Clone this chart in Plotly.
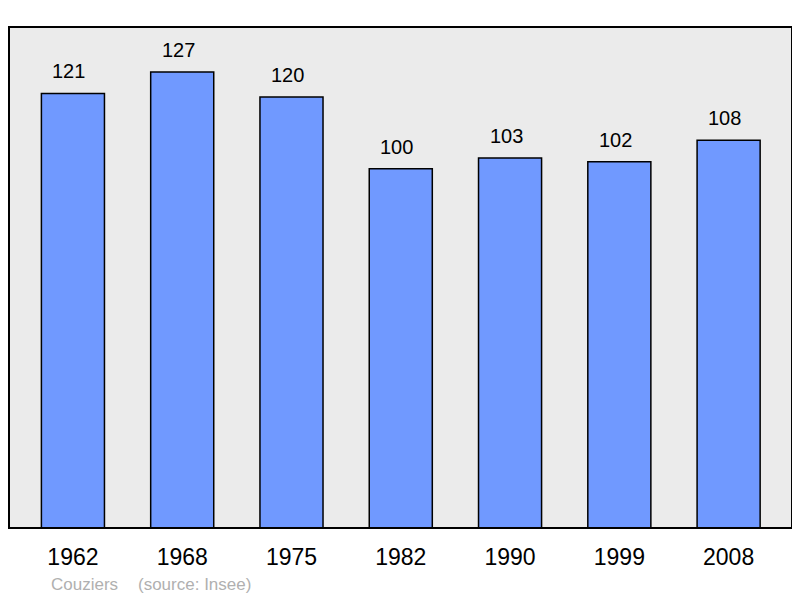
import plotly.graph_objects as go

years = ["1962", "1968", "1975", "1982", "1990", "1999", "2008"]
population = [121, 127, 120, 100, 103, 102, 108]
commune = "Couziers"
source = "(source: Insee)"

xs = list(range(len(years)))
FONT = "Liberation Sans, Arial, sans-serif"

fig = go.Figure()
fig.add_trace(go.Bar(
    x=xs, y=population, width=0.577,
    marker=dict(color="#7099ff", line=dict(color="#000000", width=1.5)),
    hoverinfo="skip",
))

for x, v in zip(xs, population):
    fig.add_annotation(x=x, y=v, text=str(v), showarrow=False,
                       yanchor="bottom", yshift=9, xshift=-4,
                       font=dict(family=FONT, size=20, color="#000"))

fig.add_annotation(xref="paper", yref="paper", x=0.0511, y=-0.1118, xanchor="left", yanchor="middle",
                   text=commune, showarrow=False,
                   font=dict(family=FONT, size=17, color="#b0b0b0"))
fig.add_annotation(xref="paper", yref="paper", x=0.1622, y=-0.1118, xanchor="left", yanchor="middle",
                   text=source, showarrow=False,
                   font=dict(family=FONT, size=17, color="#b0b0b0"))

fig.add_shape(type="rect", xref="paper", yref="paper", x0=0, x1=1, y0=0, y1=1,
              line=dict(color="#000", width=2), layer="above")

fig.update_layout(
    width=792, height=590,
    margin=dict(l=1, r=8, t=19, b=70),
    paper_bgcolor="#ffffff", plot_bgcolor="#ebebeb",
    showlegend=False,
    xaxis=dict(range=[-0.585, 6.58], tickmode="array", tickvals=xs, ticktext=years,
               showgrid=False, zeroline=False, ticks="", showline=False,
               ticklabelstandoff=13,
               tickfont=dict(family=FONT, size=23, color="#000")),
    yaxis=dict(range=[0, 139.5], showgrid=False, zeroline=False, showticklabels=False,
               ticks="", showline=False),
)

fig.write_html("out.html")
